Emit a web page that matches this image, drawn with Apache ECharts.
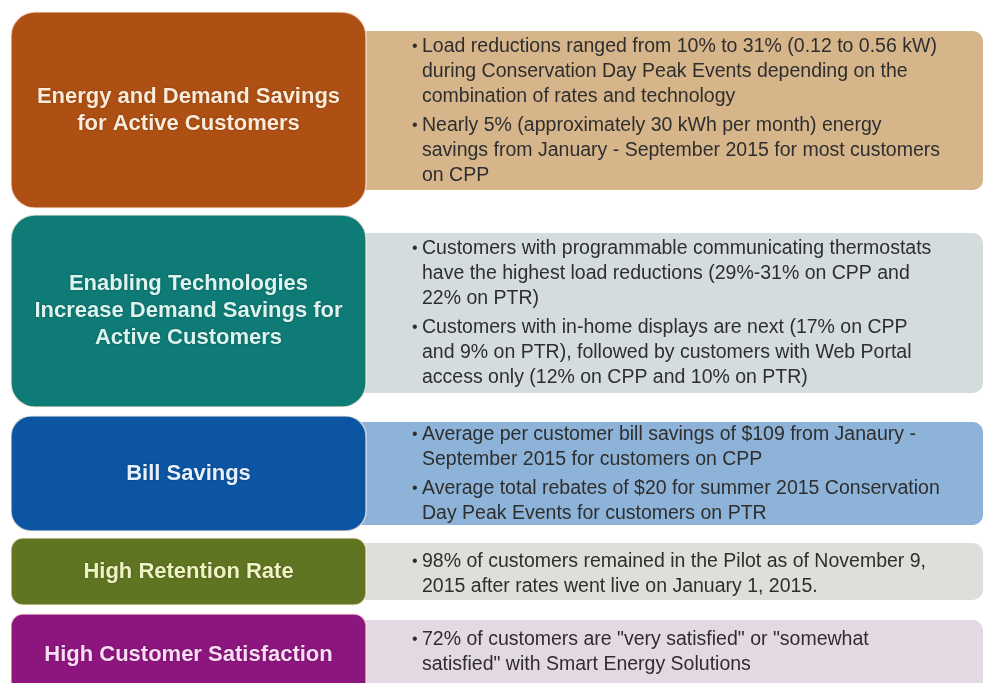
<!DOCTYPE html>
<html>
<head>
<meta charset="utf-8">
<script src="https://cdn.jsdelivr.net/npm/echarts@6/dist/echarts.min.js"></script>
<style>
  html, body { margin: 0; padding: 0; background: #fff; }
  #main { width: 985px; height: 683px; }
</style>
</head>
<body>
<div id="main"></div>
<script>
// headings on the left
const titles = [
  'Energy and Demand Savings\nfor Active Customers',
  'Enabling Technologies\nIncrease Demand Savings for\nActive Customers',
  'Bill Savings',
  'High Retention Rate',
  'High Customer Satisfaction'
]

// bullet texts on the right, one array of lines per bullet
const bullets = [
  [
    ['Load reductions ranged from 10% to 31% (0.12 to 0.56 kW)', 'during Conservation Day Peak Events depending on the', 'combination of rates and technology'],
    ['Nearly 5% (approximately 30 kWh per month) energy', 'savings from January - September 2015 for most customers', 'on CPP']
  ],
  [
    ['Customers with programmable communicating thermostats', 'have the highest load reductions (29%-31% on CPP and', '22% on PTR)'],
    ['Customers with in-home displays are next (17% on CPP', 'and 9% on PTR), followed by customers with Web Portal', 'access only (12% on CPP and 10% on PTR)']
  ],
  [
    ['Average per customer bill savings of $109 from Janaury -', 'September 2015 for customers on CPP'],
    ['Average total rebates of $20 for summer 2015 Conservation', 'Day Peak Events for customers on PTR']
  ],
  [
    ['98% of customers remained in the Pilot as of November 9,', '2015 after rates went live on January 1, 2015.']
  ],
  [
    ['72% of customers are "very satisfied" or "somewhat', 'satisfied" with Smart Energy Solutions']
  ]
]

// colours
const boxColors = ['#AE5014', '#0E7B77', '#0B55A2', '#5F7521', '#8C167E']
const panelColors = ['#D6B58B', '#D5DCDE', '#8EB3D8', '#DEDEDA', '#E4D9E2']
const titleColors = ['#FBEBD8', '#DDF3EE', '#E8F0FF', '#EEF2C4', '#FADDF2']

// layout of each row (pixels)
const rows = [
  { top: 12, bottom: 208, pTop: 31, pBottom: 190, r: 24, first: 47 },
  { top: 215, bottom: 407, pTop: 233, pBottom: 393, r: 24, first: 249 },
  { top: 416, bottom: 531, pTop: 422, pBottom: 525, r: 20, first: 435 },
  { top: 538, bottom: 605, pTop: 543, pBottom: 600, r: 12, first: 562 },
  { top: 614, bottom: 700, pTop: 620, pBottom: 700, r: 12, first: 640 }
]

const boxLeft = 11
const boxRight = 366
const panelRight = 983
const lineH = 25
const bodyFont = '"Liberation Sans", Arimo, Arial, sans-serif'

const elements = []

rows.forEach((row, i) => {
  // light panel behind
  elements.push({
    type: 'rect',
    shape: { x: boxRight - 30, y: row.pTop, width: panelRight - boxRight + 30, height: row.pBottom - row.pTop, r: [0, 10, 10, 0] },
    style: { fill: panelColors[i] },
    z: 1
  })
  // coloured heading box
  elements.push({
    type: 'rect',
    shape: { x: boxLeft, y: row.top, width: boxRight - boxLeft, height: row.bottom - row.top, r: row.r },
    style: { fill: boxColors[i], stroke: 'rgba(255,240,225,0.7)', lineWidth: 1.5 },
    z: 2
  })
  // heading text
  const tl = titles[i].split('\n')
  const mid = (row.top + Math.min(row.bottom, 695)) / 2
  const th = 27
  tl.forEach((t, k) => {
    elements.push({
      type: 'text',
      x: (boxLeft + boxRight) / 2,
      y: mid + (k - (tl.length - 1) / 2) * th,
      style: {
        text: t,
        fill: titleColors[i],
        fontFamily: bodyFont,
        fontWeight: 'bold',
        fontSize: 22,
        align: 'center', textAlign: 'center',
        verticalAlign: 'middle', textVerticalAlign: 'middle',
        textShadowColor: 'rgba(0,0,0,0.35)', textShadowBlur: 2
      },
      z: 3
    })
  })
  // bullets
  let y = row.first
  bullets[i].forEach(b => {
    elements.push({
      type: 'text', x: 412, y: y,
      style: { text: '•', fill: '#2E2E2E', fontFamily: bodyFont, fontSize: 16, align: 'left', textAlign: 'left', verticalAlign: 'middle', textVerticalAlign: 'middle' },
      z: 3
    })
    b.forEach(line => {
      elements.push({
        type: 'text', x: 422, y: y,
        style: { text: line, fill: '#2E2E2E', fontFamily: bodyFont, fontSize: 19.5, align: 'left', textAlign: 'left', verticalAlign: 'middle', textVerticalAlign: 'middle' },
        z: 3
      })
      y += lineH
    })
    y += 4
  })
})

const myChart = echarts.init(document.getElementById('main'))
myChart.setOption({
  backgroundColor: '#fff',
  animation: false,
  graphic: { elements: elements }
})
</script>
</body>
</html>
